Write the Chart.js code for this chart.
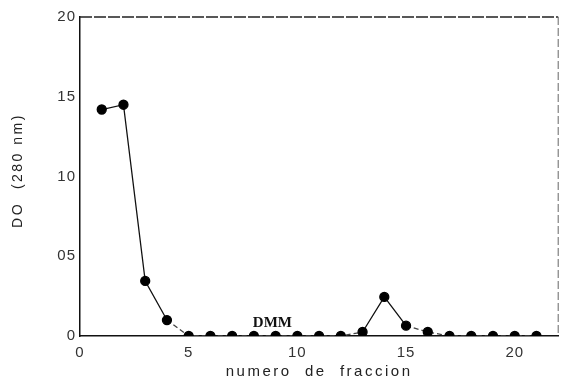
<!DOCTYPE html>
<html><head><meta charset="utf-8">
<script src="https://cdn.jsdelivr.net/npm/chart.js@4/dist/chart.umd.min.js"></script>
<style>html,body{margin:0;padding:0;background:#fff}</style>
</head><body>
<canvas id="c" width="564" height="384"></canvas>
<script>
const fractions = [1,2,3,4,5,6,7,8,9,10,11,12,13,14,15,16,17,18,19,20,21];
const odValues  = [14.2,14.5,3.45,1.0,0,0,0,0,0,0,0,0,0.25,2.45,0.65,0.25,0,0,0,0,0];
const xTicks = [0,5,10,15,20];
const yTicks = [0,5,10,15,20];
const yTickLabels = ["0","05","10","15","20"];
const xTitle = "numero  de  fraccion";
const yTitle = "DO  (280 nm)";
const peakLabel = {text: "DMM", x: 8.85, y: 0.8};

const spacingPlugin = {
  id: 'spacing',
  beforeLayout(chart) { chart.ctx.letterSpacing = '1px'; },
  beforeDraw(chart) { chart.ctx.letterSpacing = '1px'; }
};

const framePlugin = {
  id: 'frame',
  afterDraw(chart) {
    const {ctx, chartArea: a, scales} = chart;
    ctx.save();
    ctx.strokeStyle = '#222';
    ctx.lineWidth = 1.5;
    ctx.setLineDash([12, 2]);
    ctx.beginPath();
    ctx.moveTo(a.left, a.top); ctx.lineTo(a.right, a.top);
    ctx.stroke();
    ctx.lineWidth = 1;
    ctx.strokeStyle = '#666';
    ctx.setLineDash([8, 3]);
    ctx.beginPath();
    ctx.moveTo(a.right, a.top); ctx.lineTo(a.right, a.bottom);
    ctx.stroke();
    ctx.setLineDash([]);

    // axis titles
    ctx.fillStyle = '#222';
    ctx.textAlign = 'center';
    ctx.textBaseline = 'middle';
    ctx.letterSpacing = '2.5px';
    ctx.font = '15px "Liberation Sans", sans-serif';
    ctx.fillText(xTitle, (a.left + a.right) / 2, chart.height - 12);
    ctx.font = '14px "Liberation Sans", sans-serif';
    ctx.save();
    ctx.translate(18, (a.top + a.bottom) / 2 - 6);
    ctx.rotate(-Math.PI / 2);
    ctx.fillText(yTitle, 0, 0);
    ctx.restore();

    ctx.letterSpacing = '0px';
    ctx.fillStyle = '#111';
    ctx.font = 'bold 15px "Liberation Serif", "DejaVu Serif", serif';
    ctx.fillText(peakLabel.text, scales.x.getPixelForValue(peakLabel.x), scales.y.getPixelForValue(peakLabel.y));
    ctx.restore();
  }
};

new Chart(document.getElementById('c'), {
  type: 'scatter',
  data: {
    datasets: [{
      data: fractions.map((f, i) => ({x: f, y: odValues[i]})),
      showLine: true,
      borderColor: '#111',
      borderWidth: 1.3,
      pointBackgroundColor: '#000',
      pointBorderColor: '#000',
      pointRadius: 4.5,
      pointHoverRadius: 4.5,
      clip: 0,
      segment: {
        borderDash: ctx => (Math.max(ctx.p0.parsed.y, ctx.p1.parsed.y) < 1.5 ? [5, 3] : undefined),
        borderColor: ctx => (Math.max(ctx.p0.parsed.y, ctx.p1.parsed.y) < 1.5 ? '#444' : '#111')
      }
    }]
  },
  options: {
    responsive: false,
    animation: false,
    devicePixelRatio: 1,
    layout: {padding: {top: 17, right: 1, left: 0, bottom: 0}},
    plugins: {legend: {display: false}, tooltip: {enabled: false}},
    scales: {
      x: {
        type: 'linear', min: 0, max: 22,
        afterBuildTicks: s => { s.ticks = xTicks.map(v => ({value: v})); },
        afterFit: s => { s.height = 48; },
        grid: {display: false, drawTicks: false},
        border: {display: true, color: '#111', width: 1.5},
        ticks: {padding: 8, color: '#333', font: {family: '"Liberation Sans", sans-serif', size: 15}},
        title: {display: false}
      },
      y: {
        type: 'linear', min: 0, max: 20,
        afterBuildTicks: s => { s.ticks = yTicks.map(v => ({value: v})); },
        afterFit: s => { s.width = 80; },
        grid: {display: false, drawTicks: false},
        border: {display: true, color: '#111', width: 1.5},
        ticks: {padding: 4, color: '#333', font: {family: '"Liberation Sans", sans-serif', size: 15},
                callback: v => yTickLabels[yTicks.indexOf(v)]},
        title: {display: false}
      }
    }
  },
  plugins: [spacingPlugin, framePlugin]
});
</script>
</body></html>
